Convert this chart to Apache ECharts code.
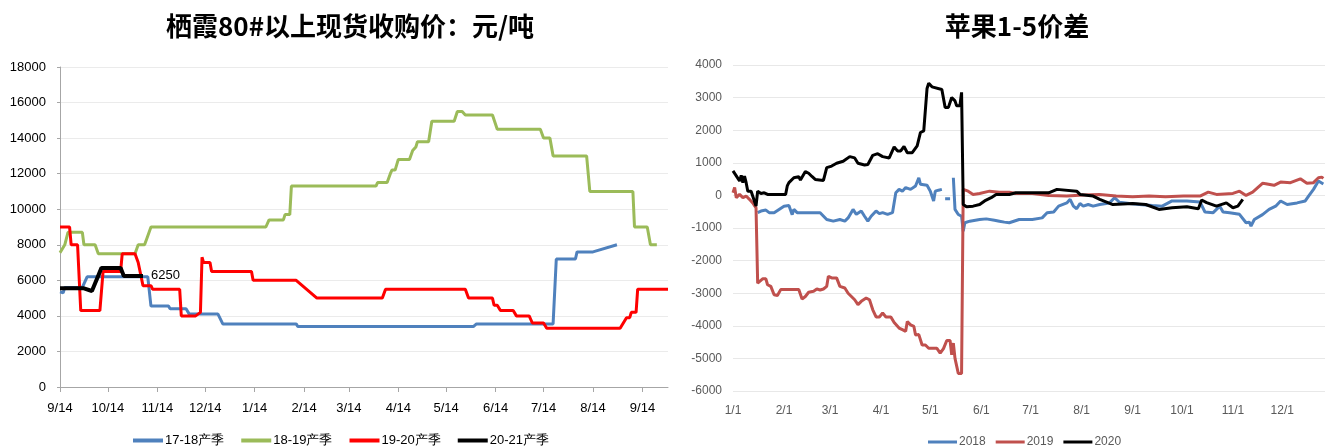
<!DOCTYPE html>
<html>
<head>
<meta charset="utf-8">
<script src="https://cdn.jsdelivr.net/npm/echarts@6/dist/echarts.min.js"></script>
<style>
  html, body { margin: 0; padding: 0; background: #fff; }
  #main { width: 1325px; height: 446px; }
</style>
</head>
<body>
<div id="main"></div>
<script>
// ---- left: 栖霞80#以上现货收购价 (season axis 9/14 -> 9/30) ----
const priceTitle = '栖霞80#以上现货收购价：元/吨';
const seasonNames = ['17-18产季', '18-19产季', '19-20产季', '20-21产季'];
const priceTicks = [0, 2000, 4000, 6000, 8000, 10000, 12000, 14000, 16000, 18000];

const season1718 = [
  ['18/9/14', 5350], ['18/9/16', 5300], ['18/9/17', 5600], ['18/9/28', 5600], ['18/10/1', 6200],
  ['18/11/8', 6200], ['18/11/10', 4550], ['18/11/21', 4550], ['18/11/22', 4400], ['18/12/2', 4400],
  ['18/12/4', 4100], ['18/12/22', 4100], ['18/12/25', 3550], ['19/2/9', 3550], ['19/2/10', 3400],
  ['19/5/31', 3400], ['19/6/2', 3550], ['19/7/20', 3550], ['19/7/22', 7200], ['19/8/3', 7200],
  ['19/8/4', 7600], ['19/8/14', 7600], ['19/8/29', 8000]
];
const season1819 = [
  ['18/9/14', 7550], ['18/9/17', 8000], ['18/9/19', 8700], ['18/9/28', 8700], ['18/9/29', 8000],
  ['18/10/6', 8000], ['18/10/8', 7500], ['18/10/31', 7500], ['18/11/2', 8000], ['18/11/6', 8000],
  ['18/11/8', 8500], ['18/11/10', 9000], ['19/1/21', 9000], ['19/1/23', 9400], ['19/2/1', 9400],
  ['19/2/2', 9700], ['19/2/5', 9700], ['19/2/6', 11300], ['19/3/31', 11300], ['19/4/1', 11500],
  ['19/4/7', 11500], ['19/4/9', 12000], ['19/4/10', 12200], ['19/4/12', 12200], ['19/4/14', 12800],
  ['19/4/21', 12800], ['19/4/23', 13300], ['19/4/25', 13500], ['19/4/26', 13800], ['19/5/3', 13800],
  ['19/5/5', 14950], ['19/5/19', 14950], ['19/5/21', 15500], ['19/5/24', 15500], ['19/5/26', 15300],
  ['19/6/12', 15300], ['19/6/15', 14500], ['19/7/12', 14500], ['19/7/14', 14000], ['19/7/18', 14000],
  ['19/7/20', 13000], ['19/8/10', 13000], ['19/8/12', 11000], ['19/9/8', 11000], ['19/9/9', 9000],
  ['19/9/17', 9000], ['19/9/19', 8000], ['19/9/23', 8000]
];
const season1920 = [
  ['18/9/14', 9000], ['18/9/20', 9000], ['18/9/21', 8000], ['18/9/25', 8000], ['18/9/27', 4300],
  ['18/10/9', 4300], ['18/10/11', 6500], ['18/10/22', 6500], ['18/10/23', 7500], ['18/10/31', 7500],
  ['18/11/2', 7000], ['18/11/5', 5700], ['18/11/10', 5700], ['18/11/11', 5500], ['18/11/28', 5500],
  ['18/11/29', 4000], ['18/12/8', 4000], ['18/12/11', 4200], ['18/12/12', 7300], ['18/12/13', 7000],
  ['18/12/17', 7000], ['18/12/18', 6500], ['19/1/12', 6500], ['19/1/13', 6000], ['19/2/9', 6000],
  ['19/2/22', 5000], ['19/4/4', 5000], ['19/4/6', 5500], ['19/5/26', 5500], ['19/5/28', 5000],
  ['19/6/12', 5000], ['19/6/13', 4600], ['19/6/15', 4600], ['19/6/17', 4300], ['19/6/25', 4300],
  ['19/6/27', 4000], ['19/7/5', 4000], ['19/7/7', 3600], ['19/7/14', 3600], ['19/7/16', 3300],
  ['19/8/31', 3300], ['19/9/4', 3900], ['19/9/6', 3900], ['19/9/7', 4200], ['19/9/10', 4200],
  ['19/9/11', 5500], ['19/9/30', 5500]
];
const season2021 = [
  ['18/9/14', 5550], ['18/9/29', 5550], ['18/10/4', 5400], ['18/10/10', 6700], ['18/10/22', 6700],
  ['18/10/24', 6250], ['18/11/5', 6250]
];

// ---- right: 苹果1-5价差 (calendar axis 1/1 -> 12/27) ----
const spreadTitle = '苹果1-5价差';
const spreadYears = ['2018', '2019', '2020'];
const spreadTicks = [-6000, -5000, -4000, -3000, -2000, -1000, 0, 1000, 2000, 3000, 4000];

const spread2018 = [
  ['1/16', -530], ['1/18', -480], ['1/19', -530], ['1/21', -450], ['1/23', -530], ['1/26', -530],
  ['1/29', -430], ['2/1', -330], ['2/4', -310], ['2/6', -590], ['2/7', -430], ['2/9', -530],
  ['2/13', -530], ['2/23', -530], ['2/27', -740], ['3/3', -790], ['3/7', -740], ['3/10', -790],
  ['3/12', -690], ['3/15', -430], ['3/17', -580], ['3/20', -480], ['3/22', -640], ['3/24', -790],
  ['3/26', -640], ['3/29', -480], ['3/31', -560], ['4/2', -530], ['4/5', -580], ['4/8', -530],
  ['4/10', 80], ['4/12', 185], ['4/14', 130], ['4/16', 240], ['4/19', 185], ['4/22', 290],
  ['4/24', 540], ['4/25', 340], ['4/29', 310], ['5/1', 130], ['5/3', -170], ['5/4', 130],
  ['5/6', 160], ['5/8', 185], ['5/9', '-'], ['5/10', -100], ['5/13', -100], ['5/14', '-'],
  ['5/15', 540], ['5/16', -430], ['5/18', -585], ['5/20', -640], ['5/21', -1100], ['5/22', -840],
  ['5/25', -790], ['5/31', -740], ['6/4', -720], ['6/9', -760], ['6/12', -790], ['6/15', -820],
  ['6/18', -840], ['6/24', -740], ['7/2', -740], ['7/8', -690], ['7/11', -530], ['7/15', -510],
  ['7/18', -330], ['7/23', -230], ['7/25', -120], ['7/27', -330], ['7/29', -410], ['7/31', -250],
  ['8/2', -330], ['8/5', -280], ['8/8', -330], ['8/12', -280], ['8/16', -250], ['8/18', -230],
  ['8/21', -70], ['8/24', -210], ['8/30', -250], ['9/5', -280], ['9/13', -310], ['9/19', -330],
  ['9/25', -170], ['10/4', -170], ['10/12', -200], ['10/15', -510], ['10/20', -530], ['10/24', -330],
  ['10/26', -510], ['10/30', -530], ['11/5', -580], ['11/9', -840], ['11/11', -820], ['11/12', -940],
  ['11/14', -740], ['11/19', -590], ['11/23', -430], ['11/27', -330], ['11/30', -170], ['12/4', -280],
  ['12/10', -230], ['12/15', -170], ['12/17', -20], ['12/20', 185], ['12/23', 440], ['12/26', 350]
];
const spread2019 = [
  ['1/1', 80], ['1/2', 240], ['1/3', -70], ['1/5', 30], ['1/7', -70], ['1/9', -20], ['1/11', -120],
  ['1/13', -230], ['1/15', -380], ['1/16', -2690], ['1/17', -2690], ['1/19', -2560], ['1/21', -2560],
  ['1/22', -2740], ['1/23', -2690], ['1/24', -2790], ['1/26', -3050], ['1/28', -3070], ['1/30', -2890],
  ['2/10', -2890], ['2/12', -3180], ['2/14', -3100], ['2/16', -2970], ['2/19', -2940], ['2/21', -2870],
  ['2/23', -2900], ['2/25', -2870], ['2/27', -2790], ['2/28', -2480], ['3/2', -2530], ['3/5', -2530],
  ['3/7', -2790], ['3/10', -2840], ['3/12', -3000], ['3/14', -3100], ['3/16', -3200], ['3/18', -3350],
  ['3/20', -3250], ['3/23', -3150], ['3/25', -3200], ['3/27', -3510], ['3/29', -3730], ['3/31', -3730],
  ['4/2', -3610], ['4/4', -3730], ['4/7', -3730], ['4/9', -3900], ['4/12', -4070], ['4/14', -4120],
  ['4/16', -4170], ['4/17', -3870], ['4/19', -3970], ['4/21', -4020], ['4/22', -4280], ['4/24', -4270],
  ['4/26', -4590], ['4/28', -4590], ['4/30', -4690], ['5/5', -4690], ['5/7', -4840], ['5/9', -4700],
  ['5/11', -4450], ['5/13', -4450], ['5/14', -4890], ['5/15', -4530], ['5/16', -5000], ['5/18', -5460],
  ['5/20', -5460], ['5/21', 185], ['5/24', 130], ['5/27', 30], ['5/31', 60], ['6/6', 130],
  ['6/12', 100], ['6/18', 100], ['6/22', 60], ['7/2', 60], ['7/12', 0], ['7/23', -20], ['8/2', 10],
  ['8/12', 30], ['8/22', -20], ['9/1', -40], ['9/11', -20], ['9/21', -40], ['10/2', -20],
  ['10/12', -20], ['10/17', 100], ['10/22', 30], ['11/1', 60], ['11/5', 130], ['11/9', 0],
  ['11/13', 100], ['11/19', 370], ['11/21', 360], ['11/26', 310], ['11/30', 410], ['12/6', 390],
  ['12/12', 510], ['12/16', 370], ['12/20', 390], ['12/23', 540], ['12/25', 560], ['12/26', 520]
];
const spread2020 = [
  ['1/1', 750], ['1/3', 600], ['1/5', 440], ['1/6', 616], ['1/7', 390], ['1/8', 595], ['1/9', 390],
  ['1/10', 130], ['1/12', 130], ['1/14', -170], ['1/15', -330], ['1/16', 130], ['1/18', 60],
  ['1/20', 80], ['1/22', 30], ['2/2', 30], ['2/3', 290], ['2/4', 390], ['2/7', 540], ['2/10', 575],
  ['2/11', 470], ['2/14', 730], ['2/16', 680], ['2/18', 580], ['2/20', 490], ['2/21', 460],
  ['2/25', 460], ['2/27', 850], ['3/2', 900], ['3/5', 985], ['3/9', 1046], ['3/13', 1190],
  ['3/16', 1150], ['3/18', 985], ['3/22', 934], ['3/24', 950], ['3/27', 1230], ['3/30', 1280],
  ['4/2', 1190], ['4/6', 1150], ['4/9', 1490], ['4/11', 1365], ['4/13', 1365], ['4/15', 1500],
  ['4/17', 1310], ['4/20', 1310], ['4/23', 1520], ['4/25', 1930], ['4/27', 1980], ['4/29', 3280],
  ['4/30', 3440], ['5/2', 3330], ['5/8', 3250], ['5/10', 2700], ['5/12', 2700], ['5/14', 3000],
  ['5/16', 2900], ['5/17', 2750], ['5/19', 2750], ['5/20', 3160], ['5/21', -280], ['5/23', -350],
  ['5/27', -330], ['5/31', -280], ['6/3', -170], ['6/7', -70], ['6/10', 30], ['6/18', 30],
  ['6/22', 80], ['7/2', 80], ['7/12', 80], ['7/17', 185], ['7/29', 130], ['7/31', 30], ['8/8', -20],
  ['8/12', -120], ['8/20', -280], ['9/1', -250], ['9/9', -280], ['9/17', -430], ['9/25', -380],
  ['10/4', -350], ['10/11', -410], ['10/13', -140], ['10/16', -220], ['10/22', -330], ['10/28', -230],
  ['11/1', -380], ['11/4', -330], ['11/7', -120]
];

// daily category keys for both x axes
function dayKeys(from, to, withYear) {
  const keys = [];
  for (let d = new Date(from); d <= to; d.setDate(d.getDate() + 1)) {
    const k = (d.getMonth() + 1) + '/' + d.getDate();
    keys.push(withYear ? String(d.getFullYear()).slice(2) + '/' + k : k);
  }
  return keys;
}
const seasonDays = dayKeys(new Date(2018, 8, 14), new Date(2019, 8, 30), true);
const calendarDays = dayKeys(new Date(2019, 0, 1), new Date(2019, 11, 27), false);

const chart = echarts.init(document.getElementById('main'));
const font = '"Liberation Sans", Arial, sans-serif';
const cjk = '"Noto Sans CJK SC", sans-serif';

const isSeasonTick = (i, v) => v.split('/')[2] === '14';
const isMonthStart = (i, v) => v.split('/')[1] === '1';
const plain = v => String(v);

chart.setOption({
  animation: false,
  title: [
    { text: priceTitle, left: 345, top: 8, textAlign: 'center',
      textStyle: { fontFamily: cjk, fontSize: 26, fontWeight: 'bold', color: '#000' } },
    { text: spreadTitle, left: 1012, top: 8, textAlign: 'center',
      textStyle: { fontFamily: cjk, fontSize: 26, fontWeight: 'bold', color: '#000' } }
  ],
  legend: [
    { data: seasonNames, left: 128, top: 429, itemWidth: 30, itemHeight: 4, itemGap: 17,
      icon: 'rect', textStyle: { fontFamily: font, fontSize: 13, color: '#000', padding: [0, 0, 0, -3] } },
    { data: spreadYears, left: 923, top: 431, itemWidth: 29, itemHeight: 3, itemGap: 10,
      icon: 'rect', textStyle: { fontFamily: font, fontSize: 12, color: '#595959', padding: [0, 0, 0, -3] } }
  ],
  grid: [
    { left: 60, right: 657, top: 67, bottom: 59 },
    { left: 733, right: 0, top: 65, bottom: 55 }
  ],
  xAxis: [
    { gridIndex: 0, type: 'category', data: seasonDays, boundaryGap: false,
      axisLine: { lineStyle: { color: '#a6a6a6' } },
      axisTick: { interval: isSeasonTick, length: 5, lineStyle: { color: '#a6a6a6' } },
      axisLabel: { interval: isSeasonTick, formatter: v => v.slice(3), margin: 15,
        fontFamily: font, fontSize: 13, color: '#000' } },
    { gridIndex: 1, type: 'category', data: calendarDays, boundaryGap: false,
      axisLine: { show: false }, axisTick: { show: false },
      axisLabel: { interval: isMonthStart, margin: 14, fontFamily: font, fontSize: 12, color: '#595959' } }
  ],
  yAxis: [
    { gridIndex: 0, type: 'value', min: priceTicks[0], max: priceTicks[priceTicks.length - 1], interval: 2000,
      axisLine: { show: true, lineStyle: { color: '#a6a6a6' } },
      axisTick: { show: true, length: 3, lineStyle: { color: '#a6a6a6' } },
      splitLine: { lineStyle: { color: '#ebebeb' } },
      axisLabel: { margin: 14, formatter: plain, fontFamily: font, fontSize: 13, color: '#000' } },
    { gridIndex: 1, type: 'value', min: spreadTicks[0], max: spreadTicks[spreadTicks.length - 1], interval: 1000,
      axisLine: { show: false }, axisTick: { show: false },
      splitLine: { lineStyle: { color: '#e8e8e8' } },
      axisLabel: { margin: 11, formatter: plain, fontFamily: font, fontSize: 12, color: '#595959' } }
  ],
  series: [
    { name: seasonNames[0], type: 'line', xAxisIndex: 0, yAxisIndex: 0, data: season1718,
      showSymbol: false, color: '#4F81BD', lineStyle: { width: 3 } },
    { name: seasonNames[1], type: 'line', xAxisIndex: 0, yAxisIndex: 0, data: season1819,
      showSymbol: false, color: '#9BBB59', lineStyle: { width: 3 } },
    { name: seasonNames[2], type: 'line', xAxisIndex: 0, yAxisIndex: 0, data: season1920,
      showSymbol: false, color: '#FF0000', lineStyle: { width: 3 } },
    { name: seasonNames[3], type: 'line', xAxisIndex: 0, yAxisIndex: 0, data: season2021,
      showSymbol: false, color: '#000000', lineStyle: { width: 4 },
      endLabel: { show: true, formatter: p => p.value[1], distance: 8,
        fontFamily: font, fontSize: 13, color: '#000' } },
    { name: spreadYears[0], type: 'line', xAxisIndex: 1, yAxisIndex: 1, data: spread2018,
      showSymbol: false, color: '#4F81BD', lineStyle: { width: 3 } },
    { name: spreadYears[1], type: 'line', xAxisIndex: 1, yAxisIndex: 1, data: spread2019,
      showSymbol: false, color: '#C0504D', lineStyle: { width: 3 } },
    { name: spreadYears[2], type: 'line', xAxisIndex: 1, yAxisIndex: 1, data: spread2020,
      showSymbol: false, color: '#000000', lineStyle: { width: 3 } }
  ]
});
</script>
</body>
</html>
